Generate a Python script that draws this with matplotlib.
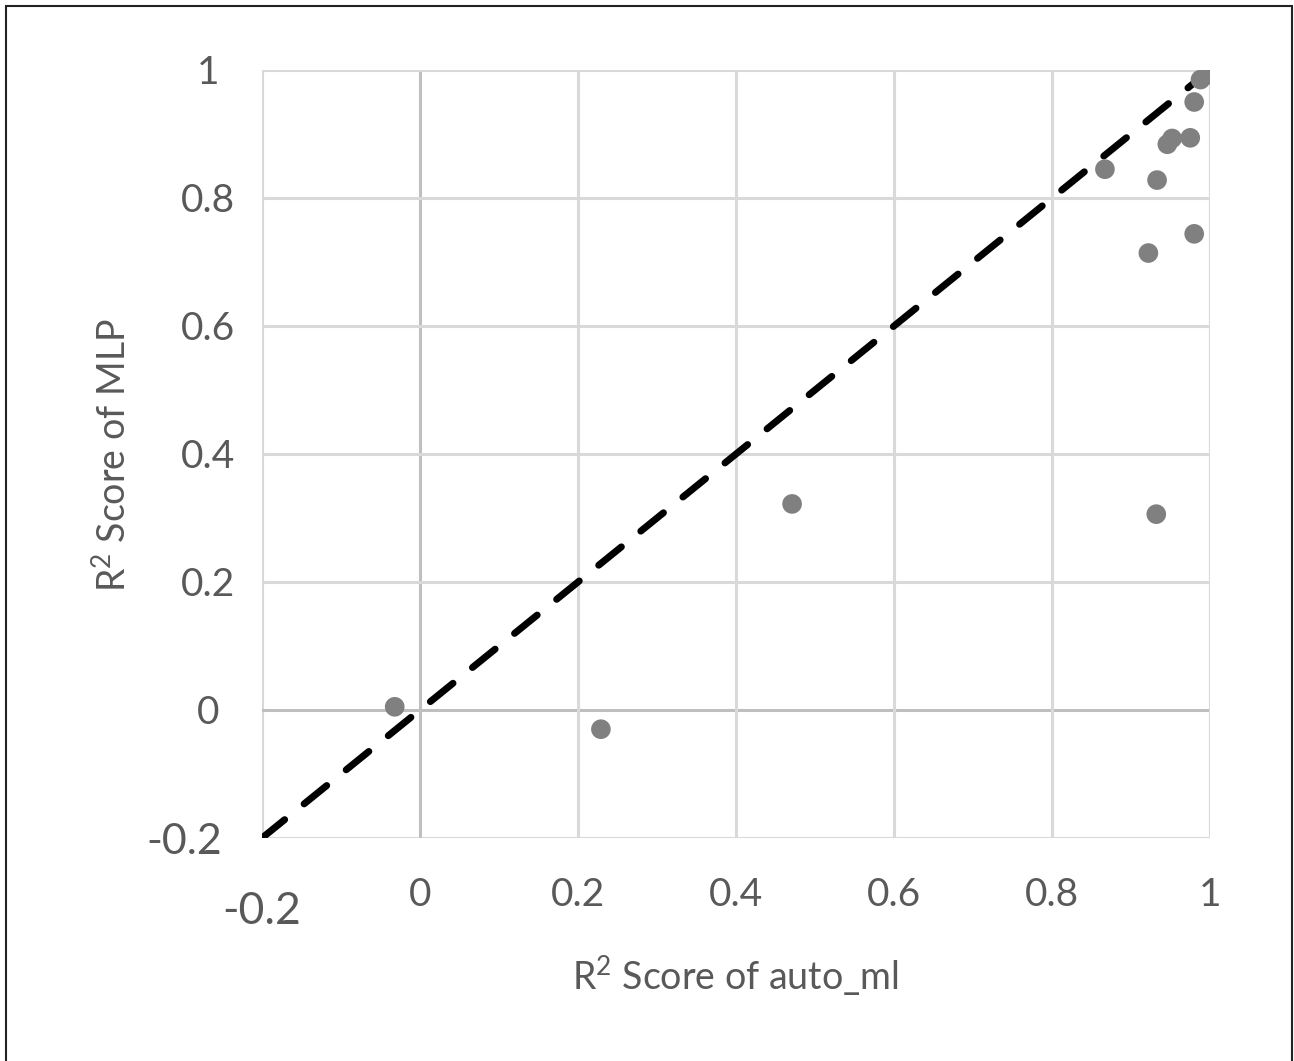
import numpy as np
import matplotlib.pyplot as plt
from matplotlib.patches import Rectangle

# Datos: R2 de auto_ml (x) vs R2 de MLP (y)
r2_auto_ml = [-0.032, 0.229, 0.471, 0.932, 0.922, 0.980, 0.867, 0.933,
              0.946, 0.952, 0.975, 0.980, 0.988, 0.996]
r2_mlp = [0.005, -0.030, 0.322, 0.306, 0.714, 0.744, 0.845, 0.828,
          0.884, 0.893, 0.894, 0.950, 0.985, 0.992]

ticks = [-0.2, 0, 0.2, 0.4, 0.6, 0.8, 1]
tick_labels = ['-0.2', '0', '0.2', '0.4', '0.6', '0.8', '1']

plt.rcParams['font.family'] = ['Lato', 'DejaVu Sans']
plt.rcParams['mathtext.fontset'] = 'custom'
plt.rcParams['mathtext.rm'] = 'Lato'
plt.rcParams['mathtext.default'] = 'regular'
txt = '#595959'

fig = plt.figure(figsize=(12.94, 10.61), dpi=100)
ax = fig.add_axes([262/1294, 1-838/1061, 948/1294, 768/1061])

# Cuadricula
for t in ticks:
    c = '#bfbfbf' if t == 0 else '#d9d9d9'
    ax.axvline(t, color=c, lw=2.2, zorder=0)
    ax.axhline(t, color=c, lw=2.2, zorder=0)

ax.plot([-0.2, 1], [-0.2, 1], color='black', lw=5, linestyle=(0, (4.2, 3.6)),
        dash_capstyle='round', zorder=2)
ax.scatter(r2_auto_ml, r2_mlp, s=200, color='#808080', edgecolors='none', zorder=3)

ax.set_xlim(-0.2, 1)
ax.set_ylim(-0.2, 1)
for s in ax.spines.values():
    s.set_visible(False)
ax.set_xticks(ticks)
ax.set_yticks(ticks)
ax.set_xticklabels(tick_labels)
ax.set_yticklabels(tick_labels, ha='center')
ax.tick_params(length=0, labelsize=28, labelcolor=txt)
ax.tick_params(axis='x', pad=28)
ax.tick_params(axis='y', pad=39)
# primera etiqueta mas grande, como en la original
xl0 = ax.get_xticklabels()[0]
xl0.set_fontsize(32)
xl0.set_y(-0.018)
yl0 = ax.get_yticklabels()[0]
yl0.set_fontsize(31)
yl0.set_x(-0.025)
yl0.set_y(-0.208)

ax.set_xlabel('R$^2$ Score of auto_ml', fontsize=27, color=txt)
ax.set_ylabel('R$^2$ Score of MLP', fontsize=27, color=txt)
ax.xaxis.set_label_coords(0.499, -0.150)
ax.yaxis.set_label_coords(-0.137, 0.499)

# Marco exterior
fig.patches.append(Rectangle((6/1294, -0.05), 1286/1294, 1.05 - 6/1061,
                             transform=fig.transFigure, fill=False,
                             edgecolor='#222222', lw=1.5))

fig.savefig('out.png', dpi=100)
